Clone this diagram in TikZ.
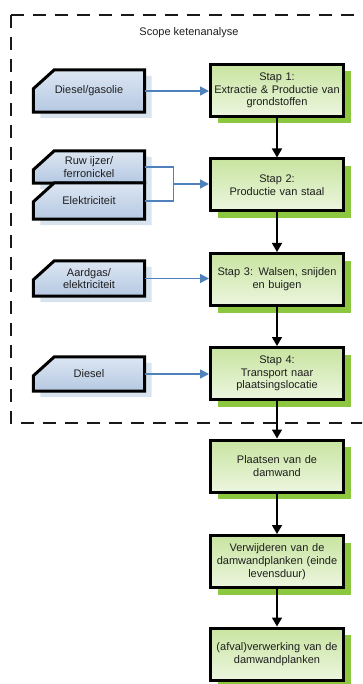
\documentclass[tikz,border=0pt]{standalone}
\usepackage{fontspec}
\setmainfont{Liberation Sans}
\usetikzlibrary{arrows.meta,shadows,backgrounds,calc}
\definecolor{greentop}{HTML}{C8E4A0}
\definecolor{greenbot}{HTML}{ECF6DF}
\definecolor{greenshadow}{HTML}{8DC63F}
\definecolor{bluetop}{HTML}{DCE6F2}
\definecolor{bluebot}{HTML}{B5C8E2}
\definecolor{blueshadow}{HTML}{D8E3F0}
\definecolor{bluearrow}{HTML}{4F81BD}
\definecolor{txt}{HTML}{1E1E1E}
\begin{document}
\begin{tikzpicture}[x=1pt,y=-1pt,
    stap/.style={draw=black,line width=3pt,top color=greentop,bottom color=greenbot,
      minimum width=133pt,minimum height=52pt,text width=128pt,align=center,inner xsep=2pt,
      text=txt,font=\fontsize{11}{12.7}\selectfont,
      drop shadow={shadow xshift=7pt,shadow yshift=-7pt,fill=greenshadow,opacity=1}},
    input/.style={minimum width=111pt,inner sep=1pt,align=center,text=txt,
      font=\fontsize{11}{12.2}\selectfont},
    inborder/.style={draw=black,line width=3pt,line join=miter,top color=bluetop,bottom color=bluebot,
      drop shadow={shadow xshift=7pt,shadow yshift=-6pt,fill=blueshadow,opacity=1}},
    inarrow/.style={draw=bluearrow,line width=1.5pt,-{Triangle[length=9pt,width=9pt]}},
    flow/.style={draw=black,line width=1.6pt,-{Triangle[length=9pt,width=10pt]}}]
  \useasboundingbox (0,0) rectangle (362,684);
  \clip (0,0) rectangle (362,684);

  \draw[line width=2pt,dash pattern=on 13pt off 9pt,color=black!90] (11,15) -- (11,423) -- (380,423);
  \draw[line width=2pt,dash pattern=on 13pt off 9pt,color=black!90] (11,15) -- (380,15);
  \node[text=txt,font=\fontsize{11}{13}\selectfont] (scope) at (189,33) {Scope ketenanalyse};

  \node[stap] (s1) at (277,90.5) {Stap 1:\\Extractie \& Productie van\\grondstoffen};
  \node[stap] (s2) at (277,185) {Stap 2:\\Productie van staal};
  \node[stap] (s3) at (277,279.5) {Stap 3: Walsen, snijden\\en buigen};
  \node[stap] (s4) at (277,373.5) {Stap 4:\\Transport naar\\plaatsingslocatie};
  \node[stap] (plaatsen) at (277,466) {Plaatsen van de\\damwand};
  \node[stap] (verwijderen) at (277,561.5) {Verwijderen van de\\damwandplanken (einde\\levensduur)};
  \node[stap] (afval) at (277,654) {(afval)verwerking van de\\damwandplanken};

  \node[input,minimum height=42pt] (diesel1) at (89,91) {Diesel/gasolie};
  \node[input,minimum height=32pt] (ruw) at (89,167) {Ruw ijzer/\\ferronickel};
  \node[input,minimum height=36pt] (elek) at (89,201) {Elektriciteit};
  \node[input,minimum height=35pt] (gas) at (89,278.5) {Aardgas/\\elektriciteit};
  \node[input,minimum height=34pt] (diesel2) at (89,374) {Diesel};

  \begin{scope}[on background layer]
    \foreach \n in {diesel1,ruw,elek,gas,diesel2}
      \path[inborder] (\n.south west) -- ([yshift=-19pt]\n.north west) -- ([xshift=21pt]\n.north west)
        -- (\n.north east) -- (\n.south east) -- cycle;
  \end{scope}

  \draw[inarrow] (diesel1.east) -- (diesel1.east -| s1.west);
  \coordinate (merge) at ([xshift=29pt]$(ruw.east)!0.5!(elek.east)$);
  \draw[draw=bluearrow,line width=1.5pt] (ruw.east) -| (merge) |- (elek.east);
  \draw[inarrow] (merge) -- (merge -| s2.west);
  \draw[inarrow] (gas.east) -- (gas.east -| s3.west);
  \draw[inarrow] (diesel2.east) -- (diesel2.east -| s4.west);

  \draw[flow] (s1) -- (s2);
  \draw[flow] (s2) -- (s3);
  \draw[flow] (s3) -- (s4);
  \draw[flow] (s4) -- (plaatsen);
  \draw[flow] (plaatsen) -- (verwijderen);
  \draw[flow] (verwijderen) -- (afval);
\end{tikzpicture}
\end{document}
